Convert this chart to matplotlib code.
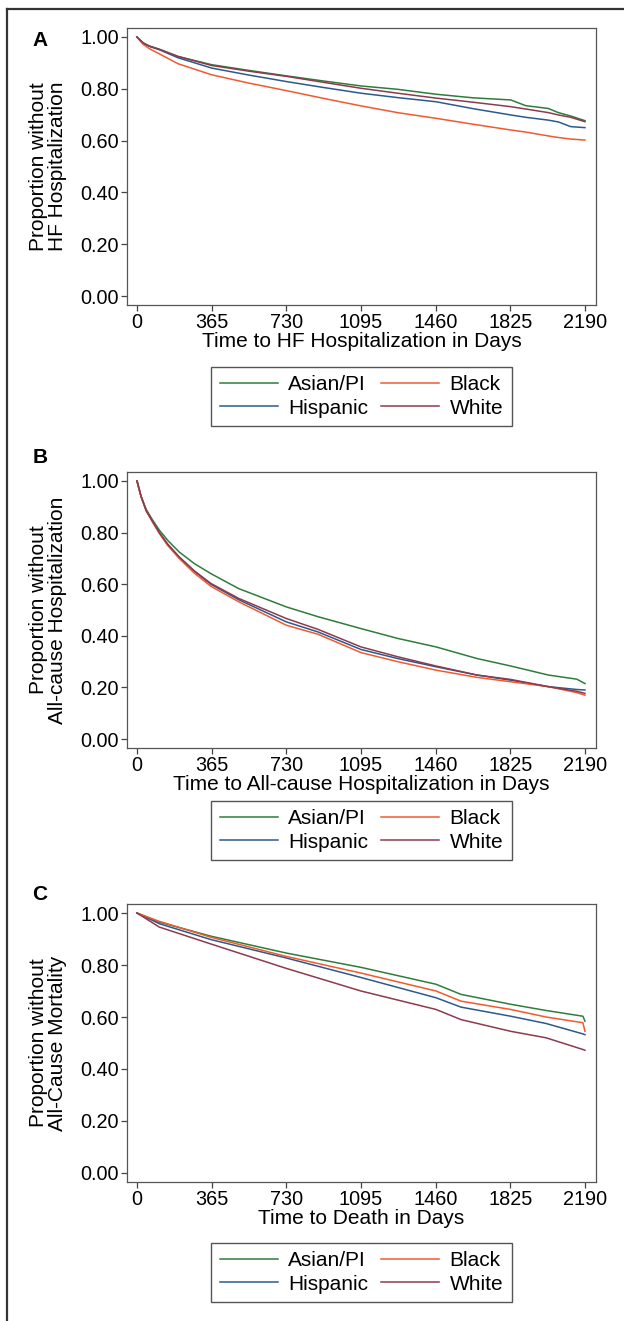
import matplotlib
matplotlib.use("Agg")
import matplotlib.pyplot as plt
from matplotlib.lines import Line2D

plt.rcParams['font.family'] = ['Liberation Sans', 'DejaVu Sans']

groups = ['Asian/PI', 'Hispanic', 'Black', 'White']
colors = {'Asian/PI': '#2f7d3a', 'Hispanic': '#2b5a8c',
          'Black': '#f2592f', 'White': '#8e3a4e'}
xticks = [0, 365, 730, 1095, 1460, 1825, 2190]
yticks = [0.0, 0.2, 0.4, 0.6, 0.8, 1.0]

# panel A: HF hospitalization
days_a = [0, 15, 30, 60, 109, 200, 365, 547, 730, 912, 1095, 1274, 1462,
          1645, 1827, 1900, 2011, 2060, 2120, 2190]
hf_asian = [1.0, 0.988, 0.977, 0.965, 0.953, 0.925, 0.893, 0.871, 0.850, 0.830, 0.811,
            0.798, 0.779, 0.765, 0.757, 0.735, 0.724, 0.708, 0.695, 0.677]
hf_hispanic = [1.0, 0.988, 0.977, 0.964, 0.951, 0.920, 0.880, 0.853, 0.828, 0.805, 0.783,
               0.766, 0.750, 0.723, 0.699, 0.690, 0.679, 0.672, 0.654, 0.650]
hf_black = [1.0, 0.985, 0.972, 0.955, 0.935, 0.897, 0.854, 0.822, 0.793, 0.763, 0.734,
            0.708, 0.686, 0.663, 0.641, 0.633, 0.618, 0.612, 0.606, 0.602]
hf_white = [1.0, 0.988, 0.977, 0.965, 0.952, 0.925, 0.890, 0.868, 0.848, 0.825, 0.802,
            0.783, 0.764, 0.748, 0.731, 0.722, 0.708, 0.699, 0.690, 0.673]

# panel B: all-cause hospitalization
days_b = [0, 20, 45, 75, 109, 150, 206, 280, 361, 497, 730, 885, 1095, 1274,
          1462, 1662, 1827, 2011, 2150, 2190]
ac_asian = [1.0, 0.94, 0.89, 0.85, 0.81, 0.77, 0.725, 0.68, 0.641, 0.583, 0.512,
            0.474, 0.428, 0.390, 0.357, 0.312, 0.283, 0.248, 0.232, 0.215]
ac_hispanic = [1.0, 0.94, 0.885, 0.845, 0.80, 0.755, 0.705, 0.65, 0.600, 0.540,
               0.454, 0.415, 0.347, 0.312, 0.280, 0.248, 0.228, 0.203, 0.192, 0.190]
ac_black = [1.0, 0.94, 0.885, 0.842, 0.797, 0.75, 0.70, 0.643, 0.592, 0.532,
            0.441, 0.406, 0.335, 0.300, 0.267, 0.239, 0.222, 0.203, 0.180, 0.170]
ac_white = [1.0, 0.94, 0.885, 0.845, 0.80, 0.755, 0.706, 0.652, 0.603, 0.545,
            0.467, 0.425, 0.357, 0.319, 0.283, 0.248, 0.231, 0.203, 0.185, 0.177]

# panel C: all-cause mortality
days_c = [0, 109, 361, 730, 1095, 1462, 1584, 1827, 2000, 2180, 2190]
mo_asian = [1.0, 0.965, 0.911, 0.846, 0.791, 0.726, 0.687, 0.649, 0.625, 0.603, 0.584]
mo_hispanic = [1.0, 0.959, 0.898, 0.827, 0.752, 0.674, 0.638, 0.603, 0.575, 0.535, 0.532]
mo_black = [1.0, 0.968, 0.907, 0.833, 0.769, 0.700, 0.661, 0.629, 0.600, 0.578, 0.545]
mo_white = [1.0, 0.946, 0.881, 0.787, 0.700, 0.629, 0.590, 0.545, 0.520, 0.475, 0.472]

panels = [
    ('A', days_a, {'Asian/PI': hf_asian, 'Hispanic': hf_hispanic,
                   'Black': hf_black, 'White': hf_white},
     'Proportion without\nHF Hospitalization',
     'Time to HF Hospitalization in Days', (28, 305), 367, 41),
    ('B', days_b, {'Asian/PI': ac_asian, 'Hispanic': ac_hispanic,
                   'Black': ac_black, 'White': ac_white},
     'Proportion without\nAll-cause Hospitalization',
     'Time to All-cause Hospitalization in Days', (472, 748), 801, 458),
    ('C', days_c, {'Asian/PI': mo_asian, 'Hispanic': mo_hispanic,
                   'Black': mo_black, 'White': mo_white},
     'Proportion without\nAll-Cause Mortality',
     'Time to Death in Days', (904, 1182), 1243, 895),
]

W, H = 624, 1321
fig = plt.figure(figsize=(W / 100, H / 100), dpi=100)

# outer frame (top and left only)
fig.add_artist(Line2D([7 / W, 1], [1 - 9 / H, 1 - 9 / H], color='#333333', lw=1.6))
fig.add_artist(Line2D([7 / W, 7 / W], [1 - 9 / H, 0], color='#333333', lw=1.6))

ax_left, ax_right = 127, 596
for letter, days, series, ylab, xlab, (top, bot), leg_top, let_y in panels:
    ax = fig.add_axes([ax_left / W, 1 - bot / H, (ax_right - ax_left) / W, (bot - top) / H])
    for g in groups:
        ax.plot(days, series[g], color=colors[g], lw=1.1, label=g)
    ax.set_xlim(-48.8, 2244)
    ax.set_ylim(-0.0347, 1.0347)
    ax.set_xticks(xticks)
    ax.set_yticks(yticks)
    ax.set_yticklabels([f'{v:.2f}' for v in yticks])
    ax.tick_params(labelsize=14.3, length=4.5, width=0.9, color='#444444', pad=1.5)
    for s in ax.spines.values():
        s.set_color('#555555')
        s.set_linewidth(0.9)
    ax.set_xlabel(xlab, fontsize=15, labelpad=0)
    ax.text(48 / W, 1 - (top + bot) / 2 / H, ylab, transform=fig.transFigure,
            rotation=90, ha='center', va='center', fontsize=15, linespacing=1.0,
            multialignment='center')
    fig.text(40 / W, 1 - let_y / H, letter, fontsize=15, fontweight='bold',
             ha='center', va='center')
    ax.legend(loc='upper center', bbox_to_anchor=(361.5 / W, 1 - leg_top / H),
              bbox_transform=fig.transFigure, ncol=2, fontsize=15, frameon=True,
              fancybox=False, edgecolor='#555555', framealpha=1,
              handlelength=2.8, handletextpad=0.5, columnspacing=0.6,
              labelspacing=0.2, borderpad=0.4, borderaxespad=0)

fig.savefig('out.png', dpi=100)
